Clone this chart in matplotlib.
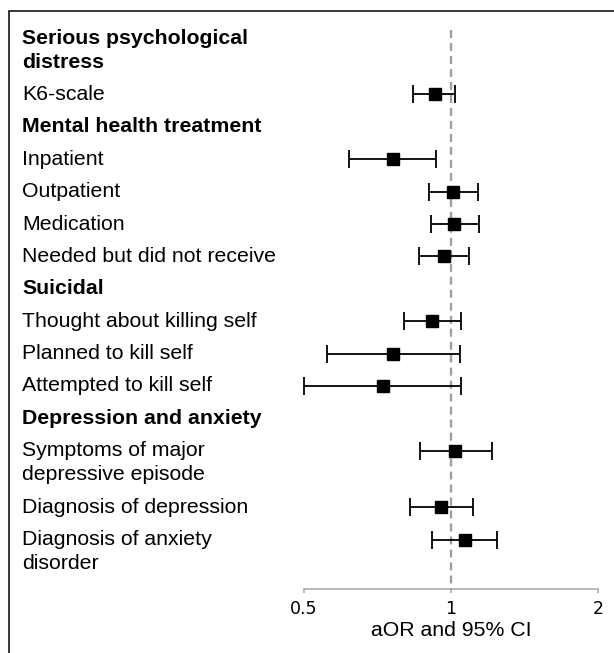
import numpy as np
import matplotlib
matplotlib.use('Agg')
import matplotlib.pyplot as plt
import matplotlib.transforms as mtransforms
from matplotlib.patches import Rectangle

plt.rcParams['font.family'] = ['Liberation Sans', 'DejaVu Sans']

# rows top to bottom; headers are bold and carry no estimate
labels = ['Serious psychological\ndistress', 'K6-scale',
          'Mental health treatment', 'Inpatient', 'Outpatient', 'Medication',
          'Needed but did not receive',
          'Suicidal', 'Thought about killing self', 'Planned to kill self',
          'Attempted to kill self',
          'Depression and anxiety', 'Symptoms of major\ndepressive episode',
          'Diagnosis of depression', 'Diagnosis of anxiety\ndisorder']
is_header = [True, False, True, False, False, False, False,
             True, False, False, False, True, False, False, False]
aor = [None, 0.927, None, 0.759, 1.010, 1.016, 0.967,
       None, 0.914, 0.762, 0.726, None, 1.020, 0.956, 1.066]
ci_low = [None, 0.837, None, 0.617, 0.903, 0.910, 0.859,
          None, 0.800, 0.556, 0.500, None, 0.862, 0.826, 0.916]
ci_high = [None, 1.021, None, 0.932, 1.135, 1.139, 1.088,
           None, 1.048, 1.043, 1.048, None, 1.211, 1.108, 1.240]
tick_vals = [0.5, 1, 2]
tick_labels = ['0.5', '1', '2']
xlabel = 'aOR and 95% CI'

W, H = 614, 653
fig = plt.figure(figsize=(W / 100, H / 100), dpi=100)
# axes in pixel-like y units (0 at top of figure, spine at 589)
ax = fig.add_axes([304 / W, (H - 589) / H, (598 - 304) / W, 589 / H])
ax.set_xscale('log')
ax.set_xlim(0.5, 2)
ax.set_ylim(589, 0)

# row positions: each row one slot, extra wrapped lines add a bit
slot, extra = 32.4, 24
ypos = []
y = 38
for lab in labels:
    ypos.append(y)
    y += slot + extra * lab.count('\n')

trans = mtransforms.blended_transform_factory(fig.transFigure, ax.transData)
for lab, yy, hd in zip(labels, ypos, is_header):
    for j, line in enumerate(lab.split('\n')):
        ax.text(22 / W, yy + j * extra, line, transform=trans, ha='left', va='center',
                fontsize=15.3, fontweight='bold' if hd else 'normal', color='black')

# estimates with CI
idx = [i for i in range(len(labels)) if aor[i] is not None]
est = np.array([aor[i] for i in idx])
lo = np.array([ci_low[i] for i in idx])
hi = np.array([ci_high[i] for i in idx])
yy = np.array([ypos[i] for i in idx])
eb = ax.errorbar(est, yy, xerr=[est - lo, hi - est], fmt='s', color='black',
                 markersize=8, elinewidth=1.3, capsize=6.8, capthick=1.3, zorder=3)
eb.lines[0].set_clip_on(False)
for art in eb.lines[1] + eb.lines[2]:
    art.set_clip_on(False)

ax.plot([1, 1], [30, 589], color='#a0a0a0', lw=1.7, linestyle=(0, (3.4, 2.1)), zorder=1)

for s in ['left', 'right', 'top']:
    ax.spines[s].set_visible(False)
ax.spines['bottom'].set_color('#a6a6a6')
ax.spines['bottom'].set_linewidth(1.1)
ax.set_yticks([])
ax.xaxis.set_major_locator(matplotlib.ticker.FixedLocator(tick_vals))
ax.xaxis.set_minor_locator(matplotlib.ticker.NullLocator())
ax.set_xticklabels(tick_labels, fontfamily='DejaVu Sans', fontsize=12.5)
ax.tick_params(axis='x', length=3, width=1.1, color='#a6a6a6', pad=5)
ax.set_xlabel(xlabel, fontsize=15.3, labelpad=2)

# outer frame, cut off at right and bottom
fig.patches.append(Rectangle((9 / W, -0.05), 1.2, 1 - 11 / H + 0.05, transform=fig.transFigure,
                             fill=False, edgecolor='black', lw=1.1))

fig.savefig('out.png', dpi=100)
